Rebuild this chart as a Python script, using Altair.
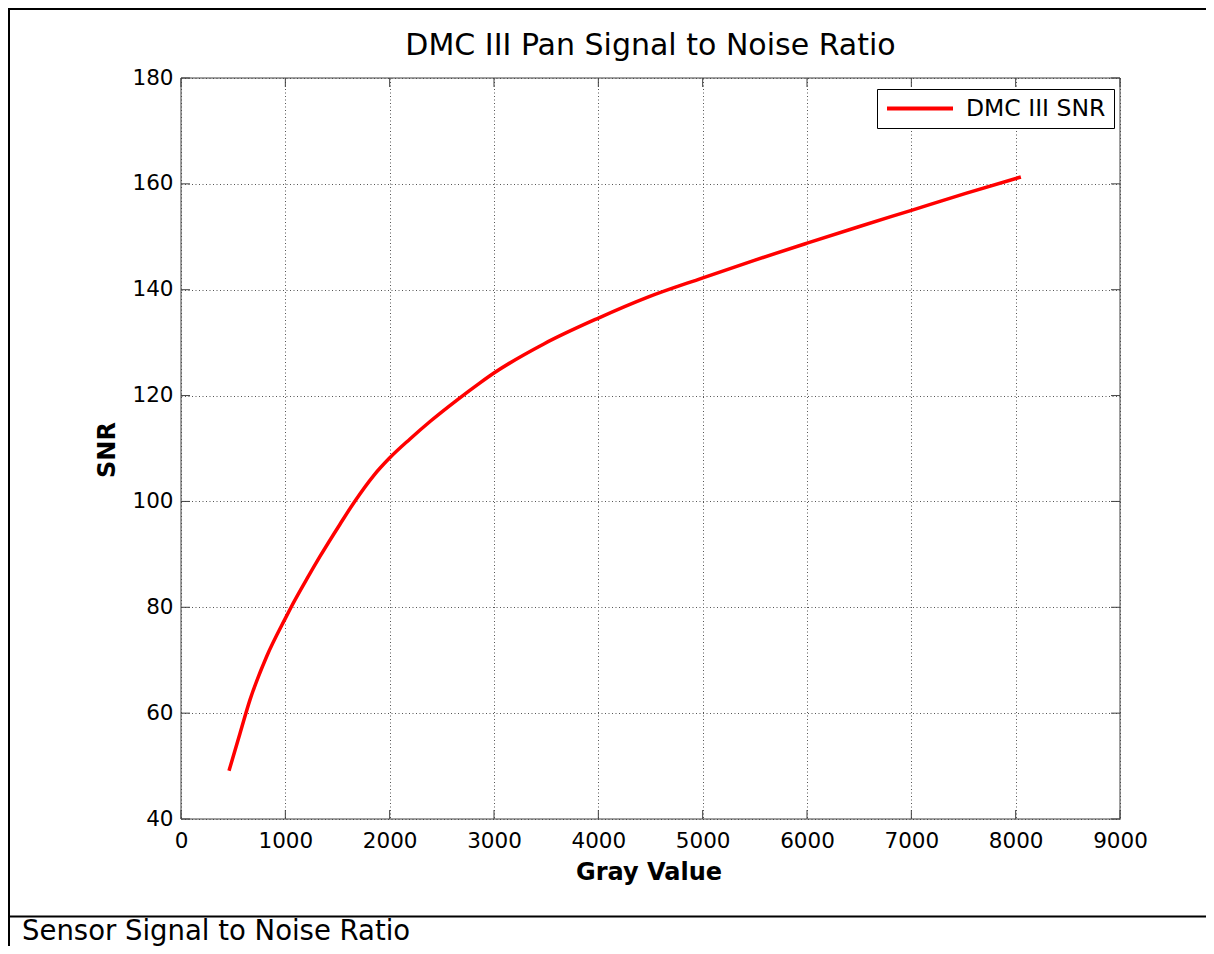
import altair as alt
import pandas as pd

# ---------------- data ----------------
gray_value = [460, 566, 661, 821, 1000, 1055, 1205, 1332, 1524, 1665, 1843, 1994,
              2195, 2387, 2642, 2866, 3003, 3482, 3996, 4475, 4995, 5502, 6001,
              6495, 7001, 7521, 8050]
snr = [49.1, 56.2, 62.5, 70.7, 77.9, 80.0, 85.3, 89.6, 95.7, 100.0, 104.8, 108.1,
       111.8, 115.1, 119.1, 122.4, 124.3, 129.8, 134.6, 138.6, 142.2, 145.6, 148.8,
       151.9, 155.0, 158.2, 161.3]
series_name = ["DMC III SNR"]
x_ticks = [0, 1000, 2000, 3000, 4000, 5000, 6000, 7000, 8000, 9000]
y_ticks = [40, 60, 80, 100, 120, 140, 160, 180]
title_text = ["DMC III Pan Signal to Noise Ratio"]
x_title = ["Gray Value"]
y_title = ["SNR"]
caption_text = ["Sensor Signal to Noise Ratio"]

# ---------------- layout ----------------
W, H = 939, 741
PAD_L, PAD_T = 173, 70
TOTAL_W, TOTAL_H = 1198, 938
PAD_R = TOTAL_W - PAD_L - W
PAD_B = TOTAL_H - PAD_T - H
FONT = "DejaVu Sans"
AX = "#404040"
TICK = 9

df = pd.DataFrame({"gray": gray_value, "snr": snr, "series": series_name * len(gray_value)})
xt = pd.DataFrame({"gray": x_ticks})
yt = pd.DataFrame({"snr": y_ticks})
one = pd.DataFrame({"k": [0]})

xscale = alt.Scale(domain=[0, 9000], nice=False, zero=False)
yscale = alt.Scale(domain=[40, 180], nice=False, zero=False)

axis_common = dict(title=None, grid=True, gridDash=[1, 2.5], gridColor="#555",
                   gridWidth=1, domain=False, tickSize=0, labelFontSize=21.5,
                   labelFont=FONT, labelColor="#000", labelFlush=False,
                   labelOverlap=False, format="d")
x_axis = alt.Axis(values=x_ticks, labelPadding=11, **axis_common)
y_axis = alt.Axis(values=y_ticks, labelPadding=8, **axis_common)

line = alt.Chart(df).mark_line(strokeWidth=3.5, interpolate="monotone").encode(
    x=alt.X("gray:Q", scale=xscale, axis=x_axis),
    y=alt.Y("snr:Q", scale=yscale, axis=y_axis),
    color=alt.Color("series:N",
                    scale=alt.Scale(domain=series_name, range=["#ff0000"]),
                    legend=alt.Legend(title=None, orient="none", legendX=696, legendY=11,
                                      symbolType="stroke", symbolSize=4356,
                                      symbolStrokeWidth=4, clipHeight=23,
                                      labelFont=FONT, labelFontSize=23.5,
                                      labelColor="#000", labelOffset=11, padding=8,
                                      strokeColor="#000", fillColor="#ffffff")),
)

box = alt.Chart(one).mark_rect(filled=False, stroke=AX, strokeWidth=1).encode(
    x=alt.value(0), x2=alt.value(W), y=alt.value(0), y2=alt.value(H))

tick_style = dict(color=AX, strokeWidth=1)
xb = alt.Chart(xt).mark_rule(**tick_style).encode(
    x=alt.X("gray:Q", scale=xscale, axis=x_axis), y=alt.value(H), y2=alt.value(H - TICK))
xtop = alt.Chart(xt).mark_rule(**tick_style).encode(
    x=alt.X("gray:Q", scale=xscale, axis=x_axis), y=alt.value(0), y2=alt.value(TICK))
yl = alt.Chart(yt).mark_rule(**tick_style).encode(
    y=alt.Y("snr:Q", scale=yscale, axis=y_axis), x=alt.value(0), x2=alt.value(TICK))
yr = alt.Chart(yt).mark_rule(**tick_style).encode(
    y=alt.Y("snr:Q", scale=yscale, axis=y_axis), x=alt.value(W), x2=alt.value(W - TICK))

title = alt.Chart(pd.DataFrame({"t": title_text})).mark_text(
    font=FONT, fontSize=30, color="#000", align="center", baseline="alphabetic"
).encode(text="t:N", x=alt.value(W / 2), y=alt.value(-23))

xlab = alt.Chart(pd.DataFrame({"t": x_title})).mark_text(
    font=FONT, fontSize=24, fontWeight="bold", color="#000", align="center",
    baseline="alphabetic"
).encode(text="t:N", x=alt.value(468), y=alt.value(802))

ylab = alt.Chart(pd.DataFrame({"t": y_title})).mark_text(
    font=FONT, fontSize=24, fontWeight="bold", color="#000", align="center",
    baseline="alphabetic", angle=270
).encode(text="t:N", x=alt.value(-66), y=alt.value(372))

caption = alt.Chart(pd.DataFrame({"t": caption_text})).mark_text(
    font=FONT, fontSize=27.5, color="#000", align="left", baseline="alphabetic"
).encode(text="t:N", x=alt.value(-159), y=alt.value(861.5))

frame_style = dict(color="#000", strokeWidth=2)
top_line = alt.Chart(one).mark_rule(**frame_style).encode(
    x=alt.value(-PAD_L), x2=alt.value(W + PAD_R), y=alt.value(-PAD_T + 1))
left_line = alt.Chart(one).mark_rule(**frame_style).encode(
    x=alt.value(-PAD_L + 1), y=alt.value(-PAD_T), y2=alt.value(H + PAD_B))
sep_line = alt.Chart(one).mark_rule(**frame_style).encode(
    x=alt.value(-PAD_L), x2=alt.value(W + PAD_R), y=alt.value(838.5))

chart = alt.layer(
    line, box, xb, xtop, yl, yr, title, xlab, ylab, caption, top_line, left_line, sep_line
).properties(
    width=W, height=H,
    autosize=alt.AutoSizeParams(type="none"),
    padding={"left": PAD_L, "top": PAD_T, "right": PAD_R, "bottom": PAD_B},
    background="#ffffff",
).configure_view(stroke=None)

chart.save("out.html", embed_options={"renderer": "svg", "actions": False})
